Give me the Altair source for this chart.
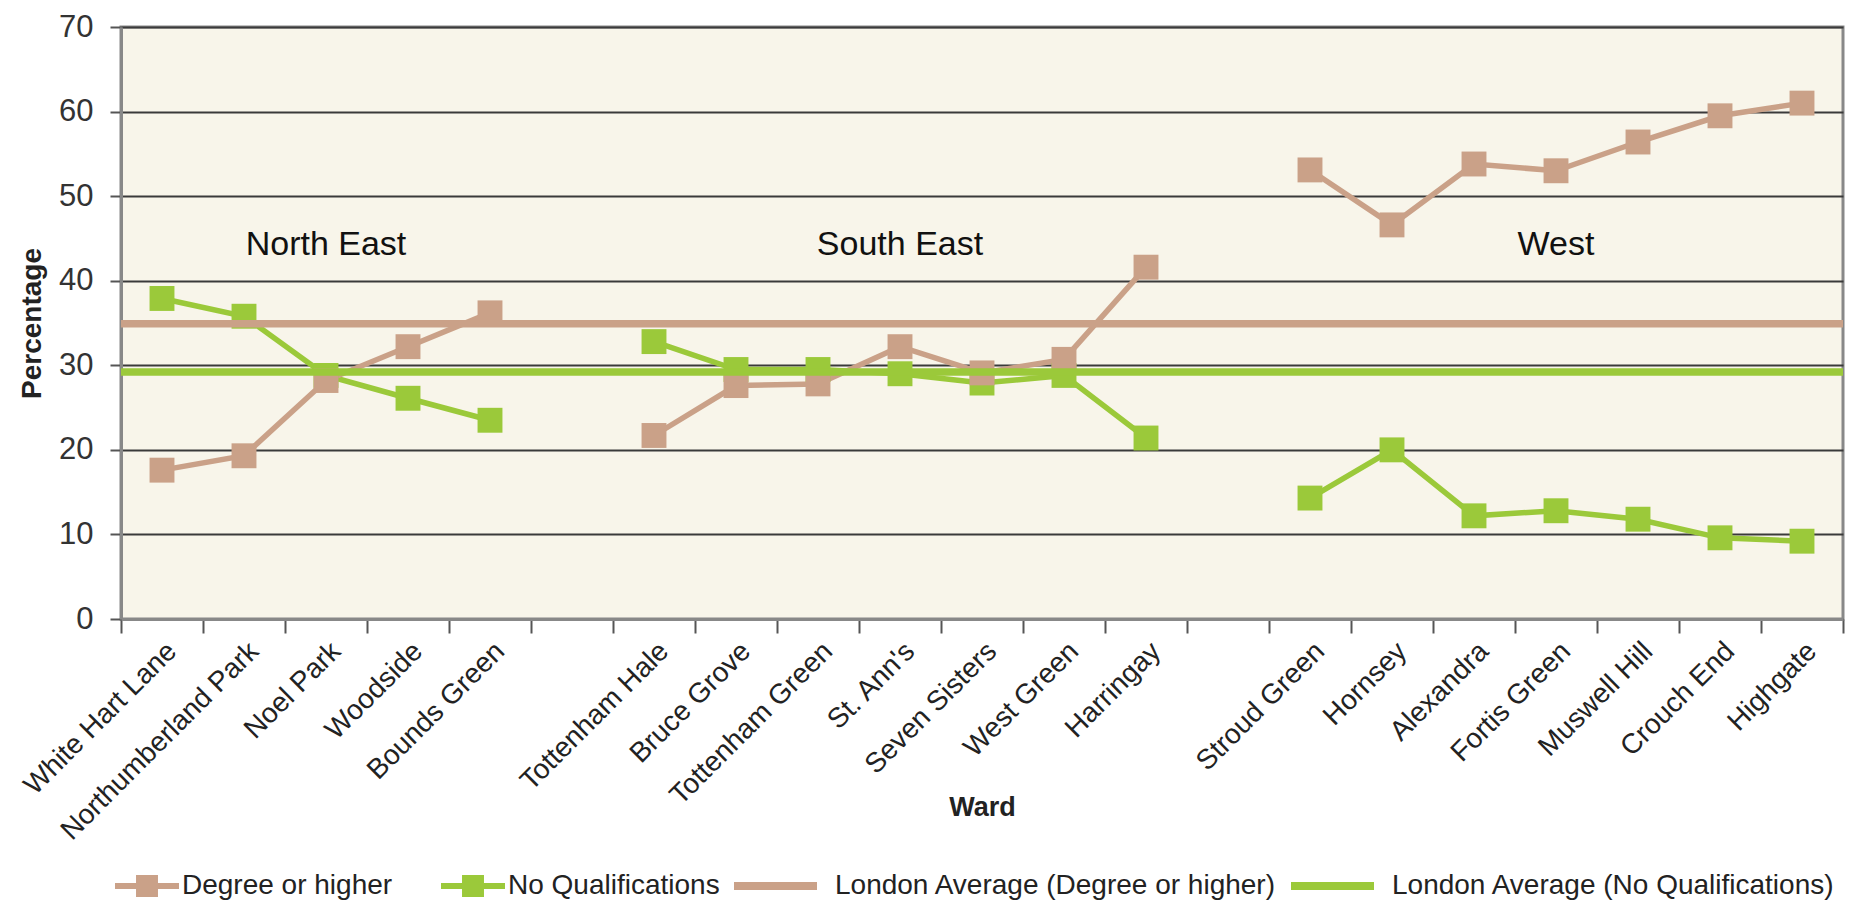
import altair as alt
import pandas as pd

# Wards grouped by area of the borough, in display order
ne_wards = ["White Hart Lane", "Northumberland Park", "Noel Park", "Woodside", "Bounds Green"]
se_wards = ["Tottenham Hale", "Bruce Grove", "Tottenham Green", "St. Ann's",
            "Seven Sisters", "West Green", "Harringay"]
w_wards = ["Stroud Green", "Hornsey", "Alexandra", "Fortis Green", "Muswell Hill",
           "Crouch End", "Highgate"]

# Share of residents (%) with a degree or higher
ne_degree = [17.6, 19.3, 28.2, 32.2, 36.2]
se_degree = [21.7, 27.6, 27.8, 32.2, 29.1, 30.7, 41.6]
w_degree = [53.1, 46.6, 53.8, 53.0, 56.4, 59.5, 61.0]

# Share of residents (%) with no qualifications
ne_noqual = [37.9, 35.8, 28.8, 26.1, 23.5]
se_noqual = [32.8, 29.5, 29.5, 29.0, 27.9, 28.8, 21.4]
w_noqual = [14.3, 20.0, 12.2, 12.8, 11.8, 9.6, 9.2]

# London-wide reference levels (%)
london_degree = 34.9
london_noqual = 29.2

regions = ["North East", "South East", "West"]

S_DEG = "Degree or higher"
S_NQ = "No Qualifications"
S_LDEG = "London Average (Degree or higher)"
S_LNQ = "London Average (No Qualifications)"
series_order = [S_DEG, S_NQ, S_LDEG, S_LNQ]

TAN = "#CAA188"
GREEN = "#9BC93A"

# blank slots separate the three areas on the ward axis
ward_order = ne_wards + [" "] + se_wards + ["  "] + w_wards

rows = []
for region, wards, deg, nq in [
    (regions[0], ne_wards, ne_degree, ne_noqual),
    (regions[1], se_wards, se_degree, se_noqual),
    (regions[2], w_wards, w_degree, w_noqual),
]:
    for w, d, n in zip(wards, deg, nq):
        rows.append({"ward": w, "region": region, "series": S_DEG, "value": d})
        rows.append({"ward": w, "region": region, "series": S_NQ, "value": n})
df = pd.DataFrame(rows)

avg_df = pd.DataFrame({"series": [S_LDEG, S_LNQ], "value": [london_degree, london_noqual]})

# area names sit above the middle ward of each group
label_df = pd.DataFrame({
    "region": regions,
    "ward": [ne_wards[len(ne_wards) // 2], se_wards[len(se_wards) // 2], w_wards[len(w_wards) // 2]],
    "level": [44.2, 44.2, 44.2],
})

SANS = "Liberation Sans"

x_enc = alt.X(
    "ward:N",
    sort=ward_order,
    bandPosition=0.5,
    scale=alt.Scale(type="band", domain=ward_order, paddingInner=0, paddingOuter=0),
    axis=alt.Axis(
        title="Ward", titleFont=SANS, titleFontSize=27, titleFontWeight="bold",
        titleColor="#222", titleY=188, titleBaseline="middle",
        labelAngle=-45, labelFont=SANS, labelFontSize=28, labelColor="#222",
        labelPadding=4, labelLimit=400, labelOverlap=False,
        tickBand="extent", tickSize=14, tickColor="#555", tickWidth=2,
        domainColor="#888", domainWidth=3,
    ),
)
y_enc = alt.Y(
    "value:Q",
    scale=alt.Scale(domain=[0, 70], nice=False),
    axis=alt.Axis(
        values=list(range(0, 71, 10)),
        title="Percentage", titleFont=SANS, titleFontSize=28, titleFontWeight="bold",
        titleColor="#222", titlePadding=12,
        labelFont=SANS, labelFontSize=31, labelColor="#333", labelPadding=17,
        tickSize=11, tickColor="#555", tickWidth=2,
        domainColor="#888", domainWidth=3,
        grid=True, gridColor="#3a3a3a", gridWidth=2,
    ),
)

color_scale = alt.Scale(domain=series_order, range=[TAN, GREEN, TAN, GREEN])
# legend glyphs (unit box): line with a square marker, and a plain thick line
marker_glyph = ("M-0.306,-0.061H0.123V-0.224H0.571V-0.061H1V0.061H0.571V0.224"
                "H0.123V0.061H-0.306Z")
rule_glyph = "M-1,-0.082H0.694V0.082H-1Z"
shape_scale = alt.Scale(domain=series_order, range=[marker_glyph, marker_glyph, rule_glyph, rule_glyph])

base = alt.Chart(df)
series_color = {S_DEG: TAN, S_NQ: GREEN, S_LDEG: TAN, S_LNQ: GREEN}


def series_line(name):
    return base.transform_filter(alt.datum.series == name).mark_line(
        strokeWidth=5.5, color=series_color[name]
    ).encode(x=x_enc, y=y_enc, detail="region:N")


def series_squares(name):
    return base.transform_filter(alt.datum.series == name).mark_square(
        size=620, opacity=1, filled=True, color=series_color[name]
    ).encode(x=x_enc, y=y_enc)


def avg_rule(name):
    return alt.Chart(avg_df).transform_filter(alt.datum.series == name).mark_rule(
        strokeWidth=7.5, color=series_color[name]
    ).encode(y=y_enc)


# invisible points that carry the combined colour/shape legend
legend_layer = base.mark_point(filled=True, opacity=0).encode(
    x=x_enc, y=y_enc,
    color=alt.Color("series:N", scale=color_scale, title=None),
    shape=alt.Shape("series:N", scale=shape_scale, title=None),
)

region_text = alt.Chart(label_df).mark_text(
    font=SANS, fontSize=34, color="#111", baseline="middle", align="center"
).encode(
    x=x_enc,
    y=alt.Y("level:Q"),
    text="region:N",
)

chart = alt.layer(
    series_line(S_NQ),
    series_line(S_DEG),
    series_squares(S_NQ),
    series_squares(S_DEG),
    avg_rule(S_LDEG),
    avg_rule(S_LNQ),
    legend_layer,
    region_text,
).properties(
    width=1722,
    height=592,
    padding={"left": 121, "top": 27, "right": 11, "bottom": 293},
    autosize=alt.AutoSizeParams(type="none"),
    background="white",
).configure_view(
    fill="#F8F5EA", stroke="#888", strokeWidth=3,
).configure_legend(
    orient="none", legendX=-40, legendY=810, direction="horizontal",
    symbolSize=9604, symbolStrokeWidth=0, symbolOpacity=1,
    labelFont=SANS, labelFontSize=28, labelColor="#222", labelLimit=700,
    labelOffset=3, columnPadding=14,
)

chart.save("out.html", embed_options={"renderer": "svg", "actions": False})
